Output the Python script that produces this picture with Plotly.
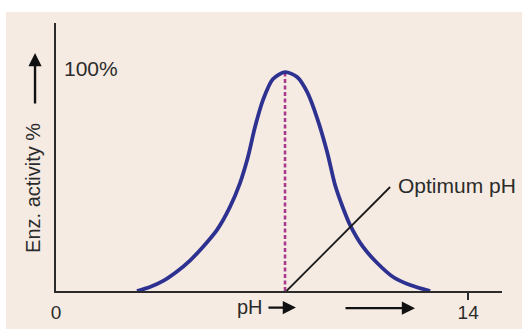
import plotly.graph_objects as go

# Enzyme activity versus pH (bell curve with optimum near pH 7.8)
ph = [2.75, 3.19, 3.64, 4.11, 4.55, 4.99, 5.47, 5.91, 6.25, 6.52, 6.76, 7.03, 7.37, 7.78,
      8.19, 8.53, 8.87, 9.21, 9.48, 9.75, 9.99, 10.43, 10.91, 11.45, 12.03, 12.71]
activity = [0, 1.8, 4.6, 8.9, 13.9, 20.1, 27.9, 38.4, 49.3, 61.2, 74.9, 87.2, 96.8, 100,
            97.7, 90.9, 79.0, 63.5, 48.4, 37.9, 30.1, 20.1, 12.8, 6.4, 2.7, 0]

optimum_ph = 7.78
optimum_activity = 100
x_ticks = [0, 14]
x_tick_text = ["0", "14"]

ink = "#2b2b2b"
font_family = "Liberation Sans, Arial, sans-serif"

fig = go.Figure()

# optimum marker (dashed vertical line)
fig.add_trace(go.Scatter(
    x=[optimum_ph, optimum_ph], y=[0, optimum_activity],
    mode="lines", line=dict(color="#a83a8e", width=2.6, dash="4px,2.5px"),
    hoverinfo="skip", cliponaxis=False))

# activity curve
fig.add_trace(go.Scatter(
    x=ph, y=activity, mode="lines",
    line=dict(color="#2d3190", width=3.8, shape="spline", smoothing=0.8),
    cliponaxis=False))

# leader line for "Optimum pH"
fig.add_trace(go.Scatter(
    x=[optimum_ph + 0.05, 11.35], y=[0, 47.5], mode="lines",
    line=dict(color="#1a1a1a", width=1.8), hoverinfo="skip", cliponaxis=False))

arrow = dict(text="", showarrow=True, arrowhead=2, arrowsize=1.1,
             arrowwidth=2.4, arrowcolor="#111", xref="paper", yref="paper")

annotations = [
    dict(x=11.55, y=48.3, text="Optimum pH", showarrow=False, xanchor="left",
         yanchor="middle", font=dict(size=21, color=ink, family=font_family)),
    dict(x=0.22, y=101.8, text="100%", showarrow=False, xanchor="left",
         yanchor="middle", font=dict(size=21, color=ink, family=font_family)),
    dict(x=-0.052, y=0.384, xref="paper", yref="paper", text="Enz. activity %",
         showarrow=False, textangle=-90, xanchor="center", yanchor="middle",
         font=dict(size=20, color=ink, family=font_family)),
    dict(x=0.435, y=-0.06, xref="paper", yref="paper", text="pH",
         showarrow=False, xanchor="center", yanchor="middle",
         font=dict(size=20, color=ink, family=font_family)),
    # up arrow beside the y label
    dict(arrow, x=-0.047, y=0.888, ax=0, ay=52),
    # short arrow after "pH"
    dict(arrow, x=0.538, y=-0.062, ax=-29, ay=0),
    # long arrow along the pH axis
    dict(arrow, x=0.805, y=-0.064, ax=-71, ay=0),
]

fig.update_layout(
    width=527, height=329,
    margin=dict(l=56, r=25, t=23, b=38, autoexpand=False),
    paper_bgcolor="white",
    plot_bgcolor="rgba(0,0,0,0)",
    showlegend=False,
    annotations=annotations,
    shapes=[dict(type="rect", xref="paper", yref="paper",
                 x0=-0.112, x1=1.045, y0=-0.145, y1=1.041,
                 fillcolor="#f6ebe3", line=dict(width=0), layer="below")],
    xaxis=dict(range=[0, 15.15], showgrid=False, zeroline=False,
               showline=True, linecolor=ink, linewidth=2.4,
               tickvals=x_ticks, ticktext=x_tick_text, ticks="",
               ticklabelstandoff=3, automargin=False,
               minor=dict(tickvals=[14], ticks="outside", ticklen=7,
                          tickwidth=2, tickcolor=ink),
               tickfont=dict(size=19, color=ink, family=font_family),
               fixedrange=True),
    yaxis=dict(range=[0, 122.4], showgrid=False, zeroline=False,
               showline=True, linecolor=ink, linewidth=2.4, automargin=False,
               showticklabels=False, ticks="", fixedrange=True),
)

fig.write_html("out.html")
